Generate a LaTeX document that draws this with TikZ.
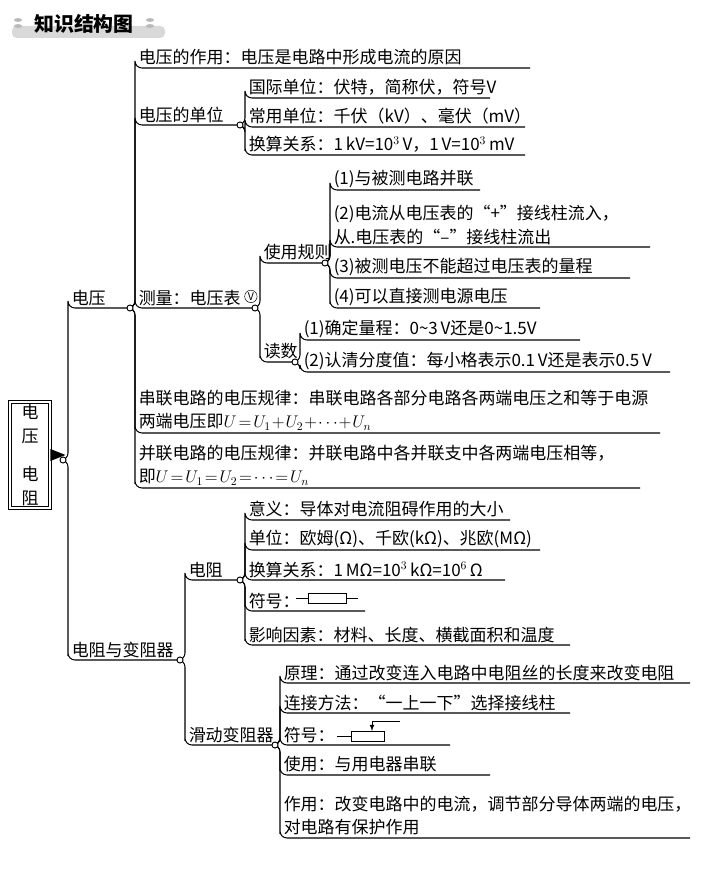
\documentclass[tikz,border=0pt]{standalone}
\usepackage{fontspec}
\setmainfont{Noto Sans CJK SC}
\usetikzlibrary{positioning}

\tikzset{
  branch/.style={line width=0.9pt,rounded corners=6pt},
  leaf/.style={anchor=south west,inner xsep=3pt,inner ysep=2pt,align=left},
  junct/.style={draw,fill=white,line width=0.8pt}
}
% branch from a junction to the underline of a text node
\newcommand\twig[3]{\draw[branch] (#1) -- ++(5,0) |- (#2.south west) -- ++(#3,0);}

\begin{document}
\begin{tikzpicture}[x=0.03cm,y=-0.03cm,font=\fontsize{14.5}{20}\selectfont]
	\useasboundingbox (0,0) rectangle (700,877);
	
	%% Title
	\fill[gray!30,rounded corners=4pt] (12,26) rectangle (165,38);
	\foreach \xh in {18,150}
	  \fill[gray!55] (\xh,20) ellipse (3.5pt and 1.6pt) (\xh,26) ellipse (3.5pt and 1.6pt);
	\node[font=\fontsize{17}{20}\selectfont\bfseries] (title) at (84,24) {知识结构图};
	
	%% Root
	\node[draw,double,double distance=1.6pt,line width=0.7pt,minimum width=1.2cm,
	      minimum height=3cm,align=center,inner sep=2pt] (root) at (30,455)
	      {电\\压\\[0.9em]电\\阻};
	\fill (root.east) ++(0,-6) -- ++(0,12) -- ++(15,-6) -- cycle;
	\coordinate (jR) at (63,460);
	
	\node[leaf] (dy) at (68,308) {电压};
	\node[leaf] (dz) at (68,660) {电阻与变阻器};
	\twig{jR}{dy}{62}
	\twig{jR}{dz}{112}
	\coordinate (jDY) at (130,308);
	\coordinate (jDZ) at (180,660);
	
	%% Voltage
	\node[leaf] (zy) at (135,68) {电压的作用：电压是电路中形成电流的原因};
	\node[leaf] (dw) at (135,125) {电压的单位};
	\node[leaf] (cl) at (135,308) {测量：电压表};
	\node[draw,circle,inner sep=0.8pt,font=\fontsize{9}{10}\selectfont,right=0pt of cl,yshift=1pt] (vm) {V};
	\node[leaf] (cg) at (135,433) {串联电路的电压规律：串联电路各部分电路各两端电压之和等于电源\\两端电压即$U\!=\!U_1\!+\!U_2\!+\!\cdots\!+\!U_n$};
	\node[leaf] (bg) at (135,488) {并联电路的电压规律：并联电路中各并联支中各两端电压相等，\\即$U\!=\!U_1\!=\!U_2\!=\!\cdots\!=\!U_n$};
	\twig{jDY}{zy}{395}
	\twig{jDY}{dw}{105}
	\twig{jDY}{cl}{120}
	\twig{jDY}{cg}{525}
	\twig{jDY}{bg}{505}
	\coordinate (jDW) at (240,125);
	\coordinate (jCL) at (255,308);
	
	\node[leaf] (gj) at (245,98) {国际单位：伏特，简称伏，符号V};
	\node[leaf] (cy) at (245,127) {常用单位：千伏（kV）、毫伏（mV）};
	\node[leaf] (hs) at (245,155) {换算关系：1\,kV=10$^3$\,V，1\,V=10$^3$\,mV};
	\twig{jDW}{gj}{245}
	\twig{jDW}{cy}{280}
	\twig{jDW}{hs}{280}
	
	\node[leaf] (gz) at (260,263) {使用规则};
	\node[leaf] (ds) at (260,362) {读数};
	\twig{jCL}{gz}{65}
	\twig{jCL}{ds}{35}
	\coordinate (jGZ) at (325,263);
	\coordinate (jDS) at (295,362);
	
	\node[leaf] (ra) at (330,190) {(1)与被测电路并联};
	\node[leaf] (rb) at (330,247) {(2)电流从电压表的“+”接线柱流入，\\从.电压表的“–”接线柱流出};
	\node[leaf] (rc) at (330,278) {(3)被测电压不能超过电压表的量程};
	\node[leaf] (rd) at (330,308) {(4)可以直接测电源电压};
	\twig{jGZ}{ra}{150}
	\twig{jGZ}{rb}{320}
	\twig{jGZ}{rc}{300}
	\twig{jGZ}{rd}{210}
	
	\node[leaf] (da) at (300,340) {(1)确定量程：0\textasciitilde3\,V还是0\textasciitilde1.5V};
	\node[leaf] (db) at (300,372) {(2)认清分度值：每小格表示0.1\,V还是表示0.5\,V};
	\twig{jDS}{da}{280}
	\twig{jDS}{db}{370}
	
	%% Resistance and rheostat
	\node[leaf] (dzu) at (185,580) {电阻};
	\node[leaf] (hd) at (185,745) {滑动变阻器};
	\twig{jDZ}{dzu}{55}
	\twig{jDZ}{hd}{90}
	\coordinate (jDZU) at (240,580);
	\coordinate (jHD) at (275,745);
	
	\node[leaf] (yy) at (245,520) {意义：导体对电流阻碍作用的大小};
	\node[leaf] (dw2) at (245,550) {单位：欧姆(Ω)、千欧(kΩ)、兆欧(MΩ)};
	\node[leaf] (hs2) at (245,580) {换算关系：1\,MΩ=10$^3$\,kΩ=10$^6$\,Ω};
	\node[leaf] (fh) at (245,611) {符号：};
	\node[leaf] (yx) at (245,645) {影响因素：材料、长度、横截面积和温度};
	\twig{jDZU}{yy}{265}
	\twig{jDZU}{dw2}{295}
	\twig{jDZU}{hs2}{260}
	\twig{jDZU}{fh}{120}
	\twig{jDZU}{yx}{325}
	\draw[line width=0.8pt] (296,598) -- (308,598) (346,598) -- (358,598)
	  (308,593) rectangle (346,603);
	
	\node[leaf] (yl) at (280,683) {原理：通过改变连入电路中电阻丝的长度来改变电阻};
	\node[leaf] (lj) at (280,713) {连接方法：“一上一下”选择接线柱};
	\node[leaf] (fh2) at (280,745) {符号：};
	\node[leaf] (sy) at (280,775) {使用：与用电器串联};
	\node[leaf] (zy2) at (280,838) {作用：改变电路中的电流，调节部分导体两端的电压，\\对电路有保护作用};
	\twig{jHD}{yl}{410}
	\twig{jHD}{lj}{290}
	\twig{jHD}{fh2}{170}
	\twig{jHD}{sy}{210}
	\twig{jHD}{zy2}{410}
	\draw[line width=0.8pt] (337,736) -- (351,736) (351,731) rectangle (384,741);
	\draw[line width=0.8pt,-latex] (400,721) -- (372,721) -- (372,731);
	
	%% Junction dots
	\foreach \jn in {jR,jDY,jDZ,jDW,jCL,jGZ,jDS,jDZU,jHD}
	  \draw[junct] (\jn) circle (2.6pt);
\end{tikzpicture}
\end{document}
